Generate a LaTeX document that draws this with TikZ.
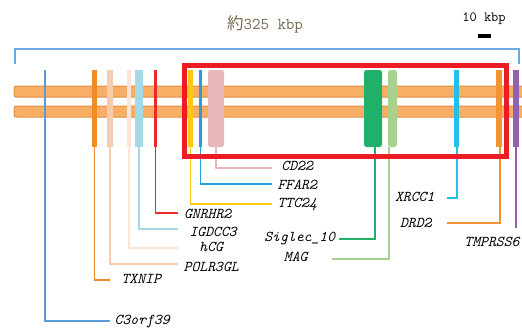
\documentclass[tikz,border=0pt]{standalone}
\usepackage{fontspec}
\newfontfamily\cjk{Noto Sans CJK JP}

\definecolor{chromfill}{RGB}{248,174,100}
\definecolor{chromrand}{RGB}{222,143,70}
\definecolor{klammerblau}{RGB}{111,168,220}
\definecolor{rahmenrot}{RGB}{237,28,36}
\definecolor{titelbraun}{RGB}{118,104,78}
\definecolor{cthree}{RGB}{91,155,213}
\definecolor{txnip}{RGB}{241,139,36}
\definecolor{polr}{RGB}{248,203,173}
\definecolor{hcg}{RGB}{252,228,214}
\definecolor{igdcc}{RGB}{164,218,232}
\definecolor{gnrhr}{RGB}{237,42,42}
\definecolor{ttc}{RGB}{255,200,20}
\definecolor{ffar}{RGB}{39,157,222}
\definecolor{cdzz}{RGB}{230,184,183}
\definecolor{siglec}{RGB}{33,176,106}
\definecolor{mag}{RGB}{169,209,142}
\definecolor{xrcc}{RGB}{34,190,236}
\definecolor{drd}{RGB}{242,148,50}
\definecolor{tmprss}{RGB}{146,98,176}

\tikzset{
  chrom/.style={draw=chromrand, fill=chromfill, line width=1pt, rounded corners=2pt},
  gen/.style={rectangle, inner sep=0pt, minimum height=77pt, draw=none},
  genrund/.style={gen, rounded corners=2.5pt},
  verb/.style={line width=1.6pt},
  genname/.style={font=\fontsize{15}{17}\selectfont\ttfamily\itshape, inner sep=0pt, text height=9pt, text depth=2pt},
  titel/.style={font=\fontsize{16.5}{18}\selectfont\ttfamily, text=titelbraun, inner sep=0pt},
  skala/.style={font=\fontsize{14}{16}\selectfont\ttfamily, inner sep=0pt},
  klammer/.style={draw=klammerblau, line width=1.6pt},
  rahmen/.style={draw=rahmenrot, line width=5pt},
}

\begin{document}
\begin{tikzpicture}[x=1pt, y=-1pt]
  \useasboundingbox (0,0) rectangle (522,327);

  % Ueberschrift und Massstab
  \node[titel] (titel) at (265,24) {{\cjk 約}325 kbp};
  \node[skala] (skala) at (484,19) {10 kbp};
  \node[fill=black, inner sep=0pt, minimum width=13pt, minimum height=4pt] (balken) at (484.5,35.5) {};

  % Klammer ueber die ganze Region
  \draw[klammer] (15,64) -- (15,49) -- (519,49) -- (519,64);

  % Chromosom (zwei Straenge)
  \draw[chrom] (14,86) rectangle (528,97);
  \draw[chrom] (14,106) rectangle (528,117);

  % Gene (linke Gruppe)
  \node[gen, fill=cthree, minimum width=2.5pt] (c3orf)  at (45,108.5)    {};
  \node[gen, fill=txnip,  minimum width=5pt]   (txnip)  at (94.5,108.5)  {};
  \node[gen, fill=polr,   minimum width=6pt]   (polr)   at (110,108.5)   {};
  \node[gen, fill=hcg,    minimum width=4pt]   (hcg)    at (129,108.5)   {};
  \node[gen, fill=igdcc,  minimum width=8pt]   (igdcc)  at (139,108.5)   {};
  \node[gen, fill=gnrhr,  minimum width=3.5pt] (gnrhr)  at (155.5,108.5) {};

  % Gene (markierte Region)
  \node[gen, fill=ttc,  minimum width=5pt]       (ttc)    at (190.5,108.5) {};
  \node[gen, fill=ffar, minimum width=3pt]       (ffar)   at (200.5,108.5) {};
  \node[genrund, fill=cdzz, minimum width=16pt]  (cdzz)   at (216,108.5)   {};
  \node[genrund, fill=siglec, minimum width=18pt] (siglec) at (373,108.5)  {};
  \node[genrund, fill=mag, minimum width=9pt]    (mag)    at (392.5,108.5) {};
  \node[gen, fill=xrcc, minimum width=5pt]       (xrcc)   at (456,108.5)   {};
  \node[gen, fill=drd,  minimum width=6pt]       (drd)    at (499,108.5)   {};

  % Gen rechts aussen
  \node[gen, fill=tmprss, minimum width=6pt]     (tmprss) at (516,108.5)   {};

  % Beschriftungen
  \node[genname, anchor=west, minimum width=64pt] (c3orflbl)  at (110,321) {C3orf39};
  \node[genname, anchor=west, minimum width=62pt] (txniplbl)  at (110,280) {TXNIP};
  \node[genname, anchor=west, minimum width=66pt] (polrlbl)   at (178,268) {POLR3GL};
  \node[genname, anchor=west, minimum width=66pt] (hcglbl)    at (178,248) {hCG};
  \node[genname, anchor=west, minimum width=70pt] (igdcclbl)  at (178,233) {IGDCC3};
  \node[genname, anchor=west, minimum width=59pt] (gnrhrlbl)  at (178,215) {GNRHR2};
  \node[genname, anchor=west, minimum width=50pt] (ttclbl)    at (272,204) {TTC24};
  \node[genname, anchor=west, minimum width=50pt] (ffarlbl)   at (272,186) {FFAR2};
  \node[genname, anchor=west, minimum width=50pt] (cdzzlbl)   at (272,167) {CD22};
  \node[genname, anchor=east, minimum width=78pt] (sigleclbl) at (339,238) {Siglec\_10};
  \node[genname, anchor=east, minimum width=72pt] (maglbl)    at (332,258) {MAG};
  \node[genname, anchor=east, minimum width=64pt] (xrcclbl)   at (447,198) {XRCC1};
  \node[genname, anchor=east, minimum width=62pt] (drdlbl)    at (447,224) {DRD2};
  \node[genname] (tmprsslbl) at (492,243) {TMPRSS6};
  \coordinate (tmprssend) at (516,228);

  % Verbindungen
  \draw[verb, cthree] (c3orf.south)  |- (c3orflbl.west);
  \draw[verb, txnip]  (txnip.south)  |- (txniplbl.west);
  \draw[verb, polr]   (polr.south)   |- ([yshift=4pt]polrlbl.west);
  \draw[verb, hcg]    (hcg.south)    |- (hcglbl.west);
  \draw[verb, igdcc]  (igdcc.south)  |- ([yshift=4pt]igdcclbl.west);
  \draw[verb, gnrhr]  (gnrhr.south)  |- ([yshift=2pt]gnrhrlbl.west);
  \draw[verb, ttc]    (ttc.south)    |- (ttclbl.west);
  \draw[verb, ffar]   (ffar.south)   |- ([yshift=2pt]ffarlbl.west);
  \draw[verb, cdzz]   (cdzz.south)   |- ([yshift=-1pt]cdzzlbl.west);
  \draw[verb, siglec] ([xshift=2pt]siglec.south) |- ([yshift=-1pt]sigleclbl.east);
  \draw[verb, mag]    ([xshift=-3.5pt]mag.south) |- ([yshift=-1pt]maglbl.east);
  \draw[verb, xrcc]   ([xshift=1pt]xrcc.south)   |- (xrcclbl.east);
  \draw[verb, drd]    ([xshift=1pt]drd.south)    |- ([yshift=1pt]drdlbl.east);
  \draw[verb, tmprss] (tmprss.south) -- (tmprssend);

  % Markierte Region
  \draw[rahmen] (184.5,65) rectangle (506,156.5);
\end{tikzpicture}
\end{document}
